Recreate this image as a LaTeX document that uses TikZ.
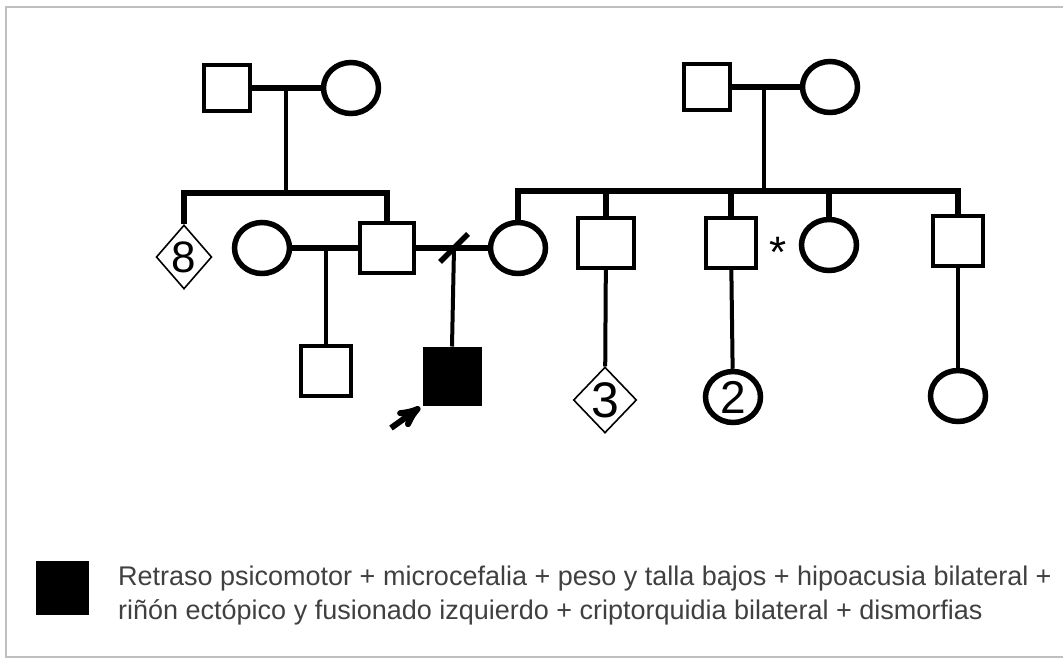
\documentclass[tikz,border=0pt]{standalone}
\usepackage{fontspec}
\setmainfont{Liberation Sans}
\usetikzlibrary{arrows,shapes.geometric}

\begin{document}
\begin{tikzpicture}[x=1pt,y=-1pt,>=stealth',
    male/.style={rectangle,draw,line width=4pt,minimum width=50,minimum height=50,inner sep=0},
    female/.style={ellipse,draw,line width=5.5pt,minimum width=55,minimum height=51,inner sep=0},
    unknown/.style={diamond,draw,line width=1.6pt,minimum width=54,minimum height=64,inner sep=0},
    couple/.style={line width=5.5pt},
    sib/.style={line width=5.5pt},
    desc/.style={line width=4pt},
    legend/.style={anchor=base west,text=black!75,inner sep=0,font=\fontsize{27}{27}\selectfont}]
    \useasboundingbox (0,0) rectangle (1063,659);
    \draw[black!25,line width=1.5pt] (1063,7) -- (6,7) -- (6,657) -- (1063,657);

    % first generation
    \node[male,minimum width=46,minimum height=46] (gfl) at (227,88) {};
    \node[female] (gml) at (351,88) {};
    \node[male,minimum width=46,minimum height=46] (gfr) at (707,87) {};
    \node[female] (gmr) at (830,87) {};
    \coordinate (ml) at (286,88);
    \coordinate (mr) at (764,87);
    \coordinate (sibl) at (286,193);
    \coordinate (sibr) at (764,191);

    % second generation
    \node[unknown] (aunts) at (184,257) {\fontsize{44}{44}\selectfont 8};
    \node[female] (wife1) at (262,248) {};
    \node[male,minimum width=54] (father) at (387,248) {};
    \node[female] (mother) at (518,248) {};
    \node[male,minimum width=56] (uncle1) at (606,243) {};
    \node[male] (uncle2) at (731,243) {};
    \node[female] (aunt) at (829,245) {};
    \node[male] (uncle3) at (958,241) {};
    \node[font=\fontsize{44}{44}\selectfont] (star) at (778,252) {*};
    \coordinate (mw) at (326,248);
    \coordinate (mm) at (454,248);

    % third generation
    \node[male] (half) at (326,371) {};
    \node[male,fill=black,minimum width=55,minimum height=55] (pro) at (452,376) {};
    \node[unknown,minimum height=66] (cous3) at (605,400) {\fontsize{50}{50}\selectfont 3};
    \node[female] (cous2) at (733,397) {\fontsize{46}{46}\selectfont 2};
    \node[female] (cous) at (958,396) {};
    \coordinate (tail) at (391,428);

    % couples and sibships
    \draw[couple] (gfl) -- (gml);
    \draw[couple] (gfr) -- (gmr);
    \draw[couple] (wife1) -- (father);
    \draw[couple] (father) -- (mother);
    \draw[line width=5.5pt] ([shift={(-14,14)}]mm) -- ([shift={(14,-14)}]mm);
    \draw[desc] (ml) -- (sibl);
    \draw[desc] (mr) -- (sibr);
    \draw[sib] (aunts.north) |- (father.north |- sibl) -- (father.north);
    \draw[sib] (mother.north) |- (uncle3.north |- sibr) -- (uncle3.north);
    \foreach \n in {uncle1,uncle2,aunt}
        \draw[sib] (\n.north) -- (\n.north |- sibr);

    % descent
    \draw[desc] (mw) -- (half.north);
    \draw[desc] (mm) -- (pro.north);
    \draw[desc] (uncle1) -- (cous3);
    \draw[desc] (uncle2) -- (cous2);
    \draw[desc] (uncle3) -- (cous);
    \draw[->,line width=6pt,shorten >=3pt] (tail) -- (pro.south west);

    % legend
    \node[fill=black,minimum width=53,minimum height=54,inner sep=0] (key) at (62,588) {};
    \node[legend] (leg1) at (118,585)
        {Retraso psicomotor + microcefalia + peso y talla bajos + hipoacusia bilateral +};
    \node[legend] (leg2) at (118,619)
        {riñón ectópico y fusionado izquierdo + criptorquidia bilateral + dismorfias};
\end{tikzpicture}
\end{document}
